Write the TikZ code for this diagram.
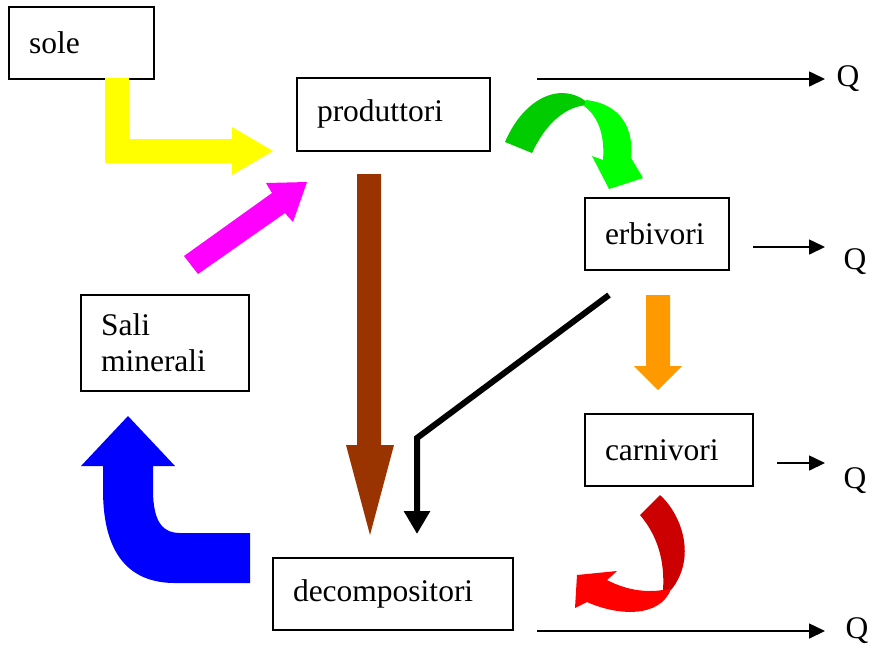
\documentclass[tikz,border=0pt]{standalone}
\usepackage{fontspec}
\setmainfont{Liberation Serif}
\usetikzlibrary{arrows.meta}
\definecolor{solegiallo}{HTML}{FFFF00}
\definecolor{salimagenta}{HTML}{FF00FF}
\definecolor{marrone}{HTML}{993300}
\definecolor{arancio}{HTML}{FF9900}
\definecolor{blu}{HTML}{0000FF}
\definecolor{verdescuro}{HTML}{00CC00}
\definecolor{verdechiaro}{HTML}{00FF00}
\definecolor{rossoscuro}{HTML}{CC0000}
\definecolor{rossochiaro}{HTML}{FF0000}
\tikzset{
  box/.style={draw, line width=1pt, inner xsep=10pt, align=left, minimum height=36pt},
  qarrow/.style={line width=0.8pt, -{Triangle[length=8pt,width=7.5pt]}},
  qlabel/.style={inner sep=0pt}
}
\begin{document}
\begin{tikzpicture}[x=0.5pt,y=-0.5pt,font=\fontsize{15.75}{18}\selectfont]
      \useasboundingbox (0,0) rectangle (871,645);
      \draw
        (81.5,43) node[box, text width=52.5pt] (sole){sole}
        (393.5,114) node[box, text width=76.5pt, minimum height=36.5pt] (prod){produttori}
        (657,234) node[box, text width=52pt] (erb){erbivori}
        (165,343) node[box, text width=64pt, minimum height=48pt] (sali){Sali\\minerali}
        (669,450) node[box, text width=64pt] (carn){carnivori}
        (393,594) node[box, text width=100pt] (dec){decompositori};
      \draw
        (848,79) node[qlabel] (q1){Q}
        (855,262) node[qlabel] (q2){Q}
        (855,481) node[qlabel] (q3){Q}
        (857,631) node[qlabel] (q4){Q};
      \coordinate (q1s) at (537,79);
      \coordinate (q1e) at (825,79);
      \coordinate (q2s) at (753,247);
      \coordinate (q2e) at (825,247);
      \coordinate (q3s) at (777,463);
      \coordinate (q3e) at (825,463);
      \coordinate (q4s) at (537,631);
      \coordinate (q4e) at (825,631);
      \begin{scope}[qarrow]
        \draw (q1s) to (q1e);
        \draw (q2s) to (q2e);
        \draw (q3s) to (q3e);
        \draw (q4s) to (q4e);
      \end{scope}
      \coordinate (b1) at (609,295);
      \coordinate (b2) at (417,438);
      \coordinate (b3) at (417,534);
      \draw[line width=3pt, -{Triangle[length=11.5pt,width=12.5pt]}] (b1) -- (b2) -- (b3);
      \begin{scope}[draw=none]
        \fill[solegiallo] (105,78) -- (129,78) -- (129,139) -- (232,139) -- (232,127)
          -- (273,151) -- (232,175) -- (232,163) -- (105,163) -- cycle;
        \fill[salimagenta] (184,256) -- (272,193) -- (266,183) -- (307,182)
          -- (293,222) -- (285,213) -- (198,274) -- cycle;
        \fill[marrone] (357,174) -- (381,174) -- (381,445) -- (394,445)
          -- (370,535) -- (346,445) -- (357,445) -- cycle;
        \fill[arancio] (646,295) -- (670,295) -- (670,366) -- (682,366)
          -- (658,390) -- (634,366) -- (646,366) -- cycle;
        \fill[blu] (250,533) -- (180,533) .. controls (165,533) and (153,525) .. (153,490)
          -- (153,466) -- (175,466) -- (128,416) -- (81,466) -- (103,466) -- (103,490)
          .. controls (103,555) and (130,583) .. (175,583) -- (250,583) -- cycle;
        \fill[verdescuro] (505,142) .. controls (525,95) and (565,80) .. (590,105)
          .. controls (565,105) and (545,125) .. (532,153) -- cycle;
        \fill[verdechiaro] (586,100) .. controls (622,104) and (634,130) .. (631,158)
          -- (643,178) -- (609,189) -- (592,156) -- (603,160)
          .. controls (605,135) and (598,116) .. (584,106) -- cycle;
        \fill[rossoscuro] (660,495) .. controls (682,515) and (697,558) .. (671,590)
          -- (663,590) .. controls (665,560) and (657,535) .. (640,515) -- cycle;
        \fill[rossochiaro] (671,589) .. controls (660,618) and (618,616) .. (587,602)
          -- (575,608) -- (577,575) -- (617,571) -- (607,580)
          .. controls (630,592) and (650,592) .. (663,590) -- cycle;
      \end{scope}
    \end{tikzpicture}
\end{document}
